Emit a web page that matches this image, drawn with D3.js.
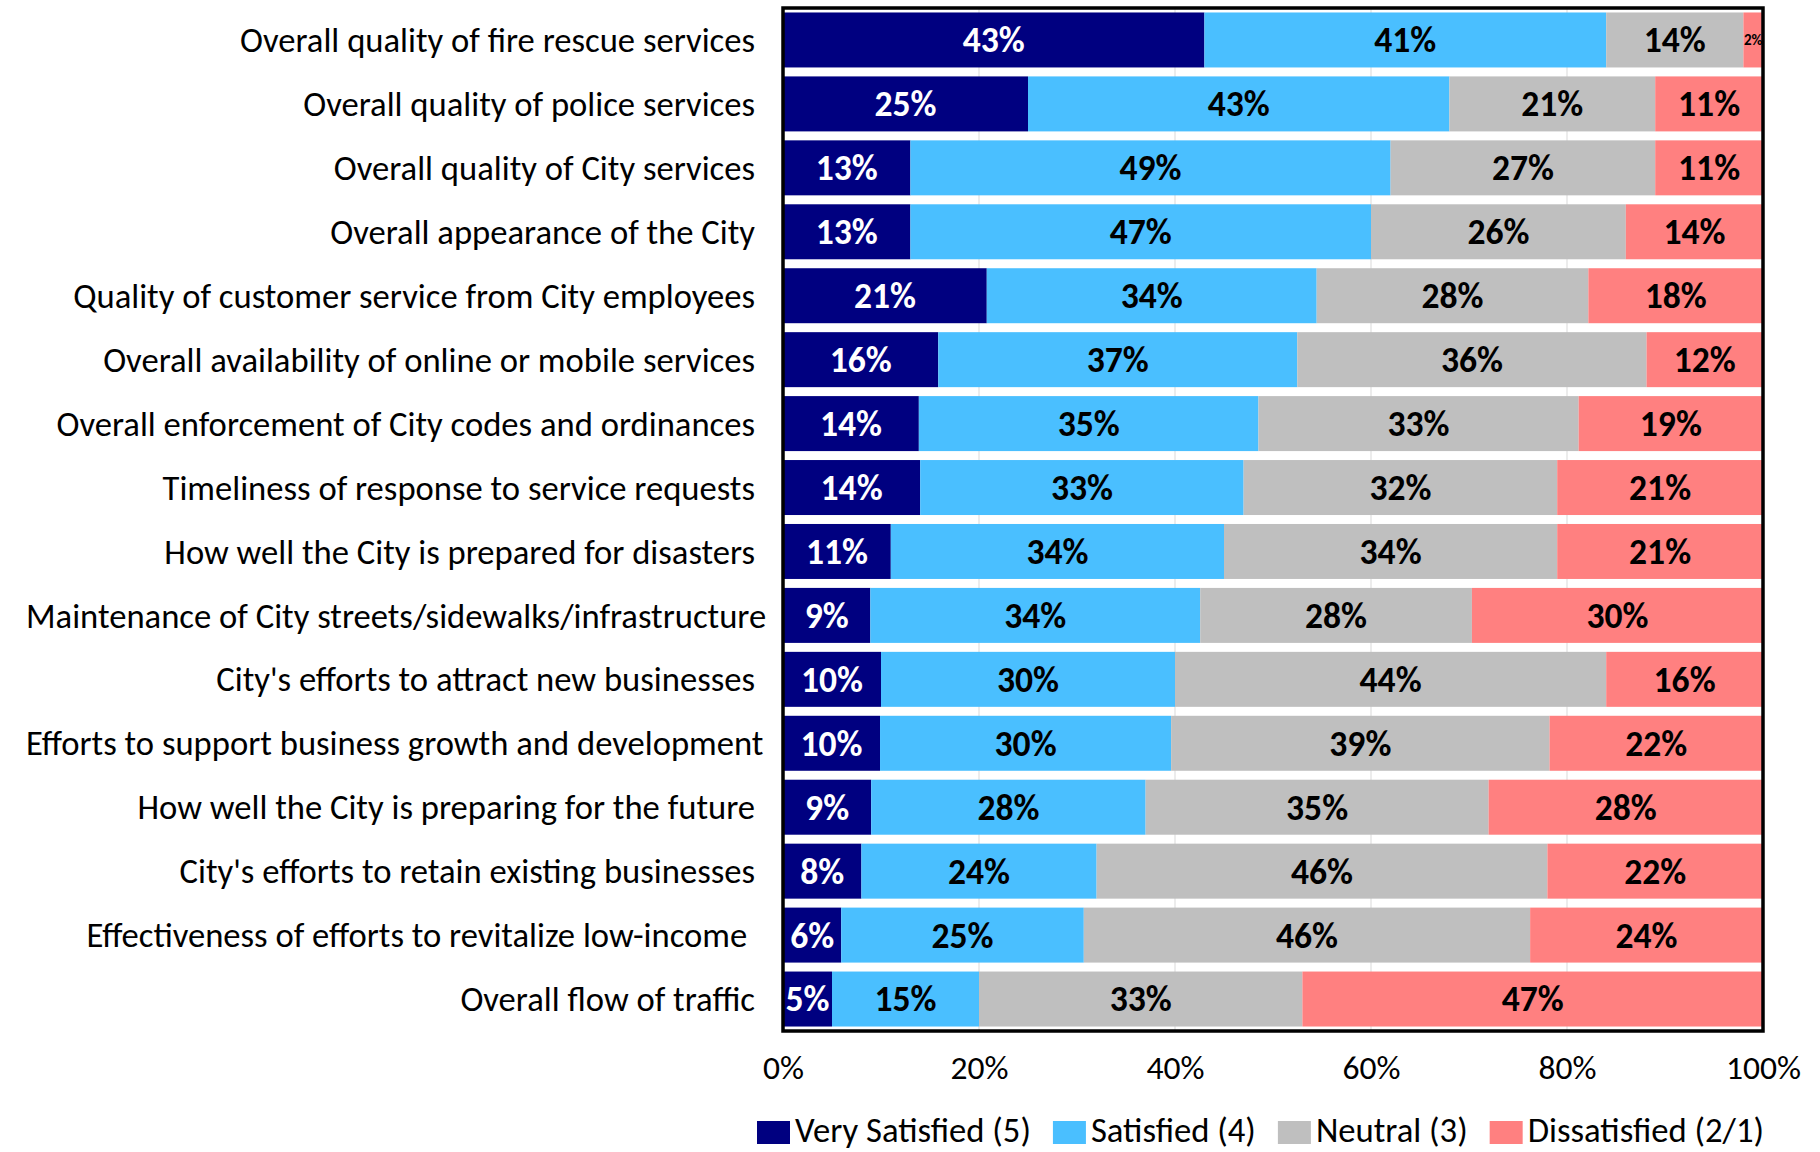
<!DOCTYPE html>
<html>
<head>
<meta charset="utf-8">
<script src="https://cdn.jsdelivr.net/npm/d3@7"></script>
<style>
  html, body { margin: 0; padding: 0; background: #fff; }
  svg { display: block; }
</style>
</head>
<body>
<div id="chart"></div>
<script>
// Satisfaction with City services, % of respondents
const categories = [
    "Overall quality of fire rescue services",
    "Overall quality of police services",
    "Overall quality of City services",
    "Overall appearance of the City",
    "Quality of customer service from City employees",
    "Overall availability of online or mobile services",
    "Overall enforcement of City codes and ordinances",
    "Timeliness of response to service requests",
    "How well the City is prepared for disasters",
    "Maintenance of City streets/sidewalks/infrastructure",
    "City's efforts to attract new businesses",
    "Efforts to support business growth and development",
    "How well the City is preparing for the future",
    "City's efforts to retain existing businesses",
    "Effectiveness of efforts to revitalize low-income ",
    "Overall flow of traffic"
];
const verySatisfied = [43, 25, 13, 13, 21, 16, 14, 14, 11, 9, 10, 10, 9, 8, 6, 5];
const satisfied     = [41, 43, 49, 47, 34, 37, 35, 33, 34, 34, 30, 30, 28, 24, 25, 15];
const neutral       = [14, 21, 27, 26, 28, 36, 33, 32, 34, 28, 44, 39, 35, 46, 46, 33];
const dissatisfied  = [2, 11, 11, 14, 18, 12, 19, 21, 21, 30, 16, 22, 28, 22, 24, 47];
const seriesNames = ["Very Satisfied (5)", "Satisfied (4)", "Neutral (3)", "Dissatisfied (2/1)"];
const seriesColors = ["#000080", "#4ABFFF", "#BFBFBF", "#FF8080"];
const xTicks = [0, 0.2, 0.4, 0.6, 0.8, 1];

const width = 1820;
const height = 1152;
const margin = { top: 8, right: 57, bottom: 122, left: 783 };
const fontFamily = "Carlito, 'Liberation Sans Narrow', 'DejaVu Sans Condensed', 'Open Sans', sans-serif";

const svg = d3.select("#chart").append("svg")
    .attr("width", width)
    .attr("height", height)
    .style("font-family", fontFamily);

// mesurer une chaîne pour caler la taille de police sur la largeur d'origine
function fitSize(str, target, weight) {
    const t = svg.append("text")
        .attr("font-size", 100)
        .attr("font-weight", weight || "normal")
        .text(str);
    const len = t.node().getComputedTextLength();
    t.remove();
    return 100 * target / len;
}
const catSize = fitSize("Overall quality of fire rescue services", 515);
const tickSize = fitSize("100%", 75);
const legendSize = fitSize("Very Satisfied (5)", 236);
const valueSize = fitSize("43%", 62, "bold");

// données empilées à 100 %
const keys = ["vs", "s", "n", "d"];
const rows = categories.map((c, i) => ({
    cat: c, vs: verySatisfied[i], s: satisfied[i], n: neutral[i], d: dissatisfied[i]
}));
const stacked = d3.stack().keys(keys).offset(d3.stackOffsetExpand)(rows);

const x = d3.scaleLinear()
    .domain([0, 1])
    .range([margin.left, width - margin.right]);
const y = d3.scaleBand()
    .domain(categories)
    .range([margin.top, height - margin.bottom + 1])
    .paddingInner(0.14)
    .paddingOuter(0.07);

// quadrillage vertical
svg.append("g")
    .selectAll("line")
    .data(xTicks.slice(1, -1))
    .join("line")
    .attr("x1", d => x(d)).attr("x2", d => x(d))
    .attr("y1", margin.top).attr("y2", height - margin.bottom)
    .attr("stroke", "#D9D9D9")
    .attr("stroke-width", 1);

// barres
const series = svg.append("g")
    .selectAll("g")
    .data(stacked)
    .join("g")
    .attr("fill", (d, i) => seriesColors[i]);

series.selectAll("rect")
    .data(d => d)
    .join("rect")
    .attr("x", d => x(d[0]))
    .attr("y", d => y(d.data.cat))
    .attr("width", d => x(d[1]) - x(d[0]))
    .attr("height", y.bandwidth());

// étiquettes de valeurs
const labelG = svg.append("g").attr("font-weight", "bold").attr("text-anchor", "middle");
stacked.forEach((s, si) => {
    s.forEach(d => {
        const w = x(d[1]) - x(d[0]);
        const txt = d.data[s.key] + "%";
        const t = labelG.append("text")
            .attr("x", (x(d[0]) + x(d[1])) / 2)
            .attr("y", y(d.data.cat) + y.bandwidth() / 2)
            .attr("dy", "0.35em")
            .attr("font-size", valueSize)
            .attr("fill", si === 0 ? "#fff" : "#000")
            .text(txt);
        const len = t.node().getComputedTextLength();
        if (len > w - 1) t.attr("font-size", valueSize * (w - 1) / len);
    });
});

// cadre de la zone de tracé
svg.append("rect")
    .attr("x", margin.left)
    .attr("y", margin.top)
    .attr("width", width - margin.right - margin.left)
    .attr("height", height - margin.bottom - margin.top + 1)
    .attr("fill", "none")
    .attr("stroke", "#000")
    .attr("stroke-width", 3.5);

// libellés des catégories
const catLabels = svg.append("g")
    .attr("font-size", catSize)
    .attr("fill", "#000")
    .attr("text-anchor", "end")
    .selectAll("text")
    .data(categories)
    .join("text")
    .attr("xml:space", "preserve")
    .attr("y", d => y(d) + y.bandwidth() / 2)
    .attr("dy", "0.35em")
    .text(d => d);
catLabels.attr("x", function() {
    const len = this.getComputedTextLength();
    return Math.max(755, 26 + len);
});

// axe des x
const xAxis = svg.append("g")
    .attr("transform", `translate(0,${height - margin.bottom})`)
    .call(d3.axisBottom(x).tickValues(xTicks).tickFormat(d3.format(".0%")).tickSize(0).tickPadding(0));
xAxis.select(".domain").remove();
xAxis.selectAll("text")
    .attr("font-family", fontFamily)
    .attr("font-size", tickSize)
    .attr("fill", "#000")
    .attr("dy", null)
    .attr("y", 49);

// légende
const legend = svg.append("g").attr("font-size", legendSize);
let lx = 757;
seriesNames.forEach((name, i) => {
    legend.append("rect")
        .attr("x", lx).attr("y", 1121)
        .attr("width", 33).attr("height", 23)
        .attr("fill", seriesColors[i]);
    const t = legend.append("text")
        .attr("x", lx + 38).attr("y", 1142)
        .attr("fill", "#000")
        .text(name);
    lx += 38 + t.node().getComputedTextLength() + 22;
});
</script>
</body>
</html>
